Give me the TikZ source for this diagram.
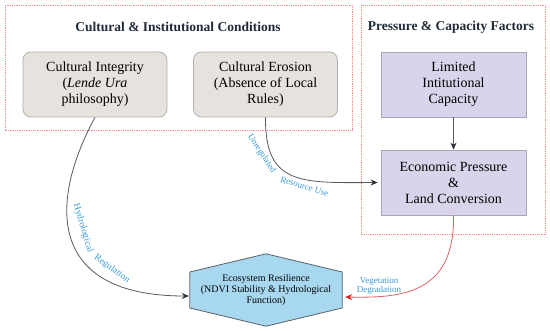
\documentclass[tikz,border=0pt]{standalone}
\usepackage{fontspec}
\setmainfont{Liberation Serif}
\usetikzlibrary{arrows.meta,calc,backgrounds}
\definecolor{clusterred}{HTML}{E8908A}
\definecolor{greyfill}{HTML}{E6E2DE}
\definecolor{greyline}{HTML}{B5B0AB}
\definecolor{purplefill}{HTML}{D9D4EB}
\definecolor{purpleline}{HTML}{A9A4BA}
\definecolor{hexfill}{HTML}{A8D8F0}
\definecolor{hexline}{HTML}{5A6068}
\definecolor{titlecol}{HTML}{1F2B38}
\definecolor{edgecol}{HTML}{555A60}
\definecolor{tipcol}{HTML}{2A3035}
\definecolor{labelblue}{HTML}{3A9AD9}
\definecolor{redline}{HTML}{E06060}
\definecolor{redtip}{HTML}{E02020}
\tikzset{
  cluster/.style={draw=clusterred, line width=0.8pt, dash pattern=on 1pt off 0.8pt},
  ctitle/.style={font=\fontsize{13.5}{15}\selectfont\bfseries, text=titlecol, inner sep=0pt},
  greybox/.style={draw=greyline, fill=greyfill, line width=0.8pt, rounded corners=8pt,
    minimum width=144pt, minimum height=65pt, align=center, inner sep=0pt,
    font=\fontsize{14}{16}\selectfont},
  purplebox/.style={draw=purpleline, fill=purplefill, line width=0.8pt,
    minimum width=145pt, minimum height=65pt, align=center, inner sep=0pt,
    font=\fontsize{14}{16}\selectfont},
  hexbox/.style={minimum width=152pt, minimum height=72pt, align=center, inner sep=0pt,
    font=\fontsize{10}{11}\selectfont},
  edge/.style={draw=edgecol, line width=0.8pt, -{Stealth[length=7pt,width=6pt,fill=tipcol,color=tipcol]}},
  rededge/.style={draw=redline, line width=0.8pt, -{Stealth[length=7pt,width=6pt,fill=redtip,color=redtip]}},
  elabel/.style={font=\fontsize{9}{9.5}\selectfont, text=labelblue, align=center, inner sep=0pt},
  plabel/.style={font=\fontsize{9.5}{10}\selectfont, text=labelblue, inner sep=0pt},
  slabel/.style={font=\fontsize{9}{10}\selectfont, text=labelblue, inner sep=0pt},
}
\begin{document}
\begin{tikzpicture}[x=1pt,y=-1pt]
\useasboundingbox (0,0) rectangle (550,331);
% clusters
\draw[cluster] (5,5) rectangle (352,130);
\draw[cluster] (361,5) rectangle (545,234);
\node[ctitle] (t1) at (178,27) {Cultural \& Institutional Conditions};
\node[ctitle] (t2) at (451,27) {Pressure \& Capacity Factors};
% nodes
\node[greybox] (ci) at (95,84.5) {Cultural Integrity\\(\textit{Lende Ura}\\philosophy)};
\node[greybox] (ce) at (265.5,84.5) {Cultural Erosion\\(Absence of Local\\Rules)};
\node[purplebox] (lic) at (453.5,84.5) {Limited\\Intitutional\\Capacity};
\node[purplebox] (epl) at (453.5,182.5) {Economic Pressure\\\&\\Land Conversion};
\node[hexbox] (hex) at (266,290) {Ecosystem Resilience\\(NDVI Stability \& Hydrological\\Function)};
\begin{scope}[on background layer]
\draw[draw=hexline, fill=hexfill, line width=0.8pt]
  (hex.north) -- ($(hex.east)+(0,-18)$) -- ($(hex.east)+(0,18)$) -- (hex.south)
  -- ($(hex.west)+(0,18)$) -- ($(hex.west)+(0,-18)$) -- cycle;
\end{scope}
% edges
\draw[edge] (lic.south) -- (epl.north);
\draw[edge] (ci.south) .. controls (50,200) and (45,296) .. ($(hex.west)+(-1,6)$);
\draw[edge] (ce.south) .. controls (265,185) and (300,183) .. ($(epl.west)+(-3,0)$);
\draw[rededge] (epl.south) .. controls (455,295) and (400,298) .. ($(hex.east)+(3,7)$);
% edge labels
\node[plabel, rotate=-73] (lh) at (83,228) {Hydrological};
\node[plabel, rotate=-36] (lr) at (112,269) {Regulation};
\node[slabel, rotate=-57] (lu) at (261.5,153.5) {Unregulated};
\node[slabel, rotate=-17] (lru) at (304.5,186.5) {Resource Use};
\node[elabel] (vd) at (379,286) {Vegetation\\Degradation};
\end{tikzpicture}
\end{document}
